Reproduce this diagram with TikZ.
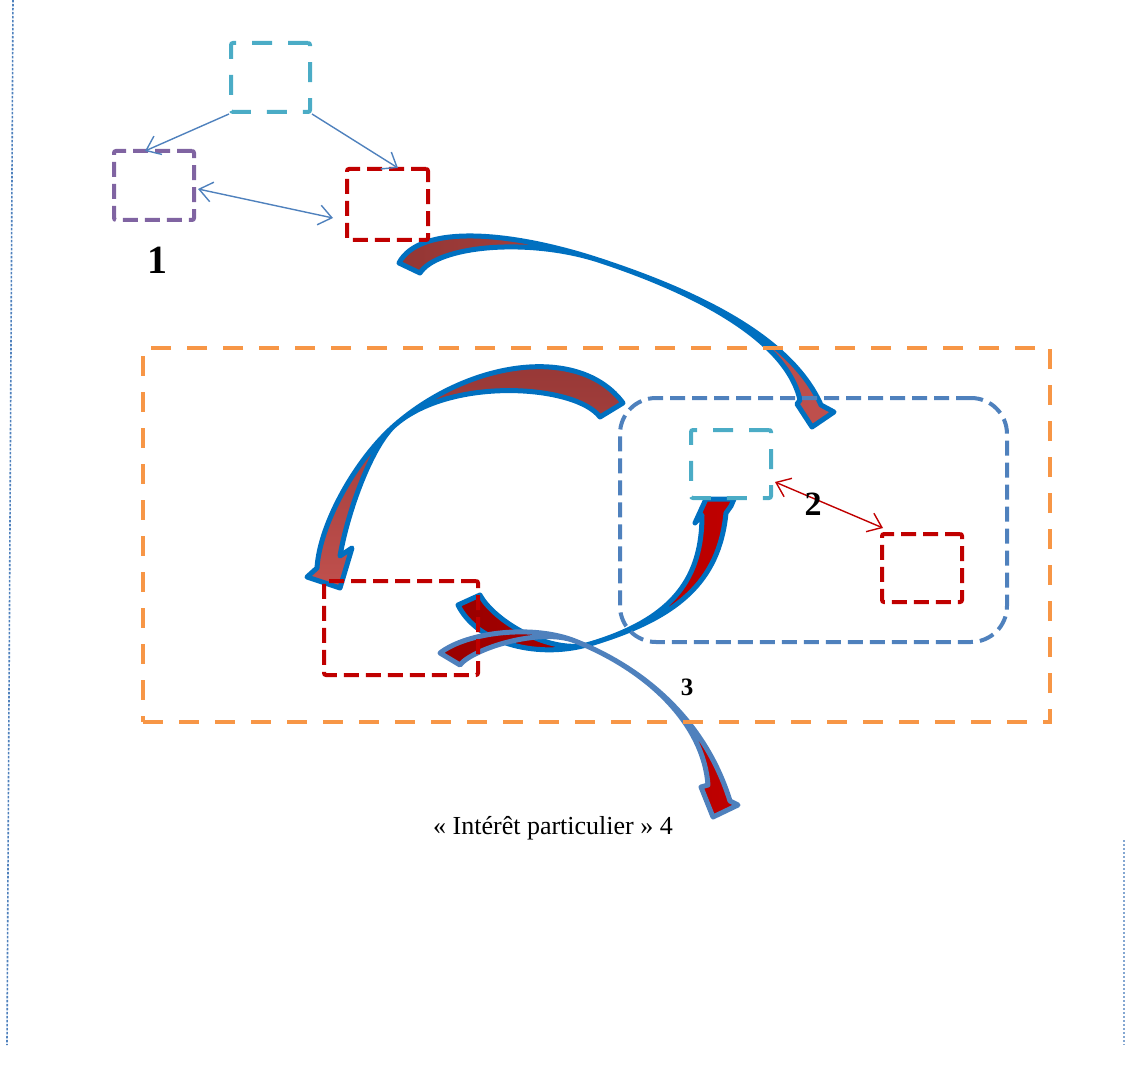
\documentclass[tikz,border=0pt]{standalone}
\usepackage{fontspec}
\setmainfont{Liberation Serif}
\usetikzlibrary{arrows.meta}
\definecolor{cyanb}{HTML}{4BACC6}
\definecolor{purpb}{HTML}{8064A2}
\definecolor{redb}{HTML}{C00000}
\definecolor{orangeb}{HTML}{F79646}
\definecolor{blueb}{HTML}{4F81BD}
\definecolor{arrblue}{HTML}{0070C0}
\definecolor{brownd}{HTML}{943634}
\definecolor{brownl}{HTML}{C0504D}
\definecolor{redd}{HTML}{990000}
\begin{document}
\begin{tikzpicture}[x=0.5pt,y=-0.5pt,
  box/.style={draw, line width=2pt, inner sep=0pt, rounded corners=1pt},
  longdash/.style={dash pattern=on 10pt off 8pt},
  shortdash/.style={dash pattern=on 7.5pt off 3.5pt},
  thinarrow/.style={draw=blueb, line width=0.7pt},
  barb/.tip={Straight Barb[length=6.5pt,width=10pt]},
  curvedarrow/.style={line width=2.5pt, line join=round},
]
\useasboundingbox (0,0) rectangle (1126,1070);

% page border marks
\draw[blueb, line width=0.8pt, dash pattern=on 1.2pt off 0.8pt] (13,0) -- (7,1045);
\draw[blueb!70, line width=0.8pt, dash pattern=on 1.2pt off 0.8pt] (1124,840) -- (1124,1045);

% curved arrows
\path[curvedarrow, draw=arrblue, left color=brownd, right color=brownl]
 (399,263) .. controls (419.5,224) and (509.75,230.75) .. (600.6,260.75)
 .. controls (691.5,290.75) and (790,335) .. (821,405)
 -- (834,412) -- (812,427) -- (797,404) -- (800,400)
 .. controls (786,338) and (691.5,290.75) .. (600.6,260.75)
 .. controls (528,236.75) and (437,246) .. (420,273) -- cycle;

\path[curvedarrow, draw=arrblue, top color=brownd, bottom color=brownl]
 (623,403) .. controls (580,345) and (470.6,359.5) .. (395,425)
 .. controls (357.2,457.75) and (319.7,523) .. (317,568)
 -- (307,577) -- (340,588) -- (352,548) -- (340,556)
 .. controls (348,510) and (372.3,444.7) .. (395,425)
 .. controls (451.7,375.9) and (576,385) .. (600,417) -- cycle;

\path[curvedarrow, draw=arrblue, left color=redd, right color=redb]
 (458,605) .. controls (478,645) and (540.2,658.9) .. (590,644)
 .. controls (676.2,618.2) and (719,583) .. (726,513)
 -- (731,506) -- (734,499) -- (706,499) -- (695,523) -- (702,515)
 .. controls (702,576) and (675.5,618.5) .. (590,644)
 .. controls (551.7,655.5) and (494.1,621.4) .. (480,595) -- cycle;

\path[curvedarrow, draw=blueb, left color=redd, right color=redb]
 (440,653) .. controls (467.7,631.7) and (533.2,624.4) .. (575,641)
 .. controls (649.4,670.6) and (706.3,724.6) .. (730,801)
 -- (738,805) -- (713,817) -- (701,787) -- (708,785)
 .. controls (703.5,724) and (648.5,670.3) .. (575,641)
 .. controls (540,627.1) and (472,649) .. (460,665) -- cycle;

% containers
\node[box, draw=orangeb, longdash, rounded corners=0pt, minimum width=453.5pt, minimum height=187pt] (outer) at (596.5,535) {};
\node[box, draw=blueb, shortdash, rounded corners=18pt, minimum width=193.5pt, minimum height=122pt] (inner) at (813.5,520) {};

% boxes
\node[box, draw=cyanb, longdash, minimum width=39.5pt, minimum height=34.5pt] (cyan1) at (270.5,77.5) {};
\node[box, draw=purpb, shortdash, minimum width=40pt, minimum height=34.5pt] (purple) at (154,185.5) {};
\node[box, draw=redb, shortdash, minimum width=40.5pt, minimum height=35.5pt] (redtop) at (387.5,204.5) {};
\node[box, draw=cyanb, longdash, minimum width=40pt, minimum height=34pt] (cyan2) at (731,464) {};
\node[box, draw=redb, shortdash, minimum width=40pt, minimum height=34pt] (redright) at (922,568) {};
\node[box, draw=redb, shortdash, minimum width=77pt, minimum height=47pt] (redleft) at (401,628) {};

% thin connectors
\coordinate (pa) at (145,151);
\coordinate (pb) at (398,168);
\coordinate (pc) at (198,189);
\coordinate (pd) at (333,218);
\coordinate (pe) at (775,482);
\coordinate (pf) at (883,528);
\draw[thinarrow, -barb] (cyan1.south west) -- (pa);
\draw[thinarrow, -barb] (cyan1.south east) -- (pb);
\draw[thinarrow, barb-barb] (pc) -- (pd);
\draw[draw=redb, line width=0.7pt, barb-barb] (pe) -- (pf);

% labels
\node[font=\bfseries\fontsize{20}{24}\selectfont] (l1) at (157,260) {1};
\node[font=\bfseries\fontsize{17}{20}\selectfont] (l2) at (813,504) {2};
\node[font=\bfseries\fontsize{12.5}{15}\selectfont] (l3) at (687,687) {3};
\node[font=\fontsize{13}{16}\selectfont] (t4) at (553,828) {« Intérêt particulier » 4};
\end{tikzpicture}
\end{document}
